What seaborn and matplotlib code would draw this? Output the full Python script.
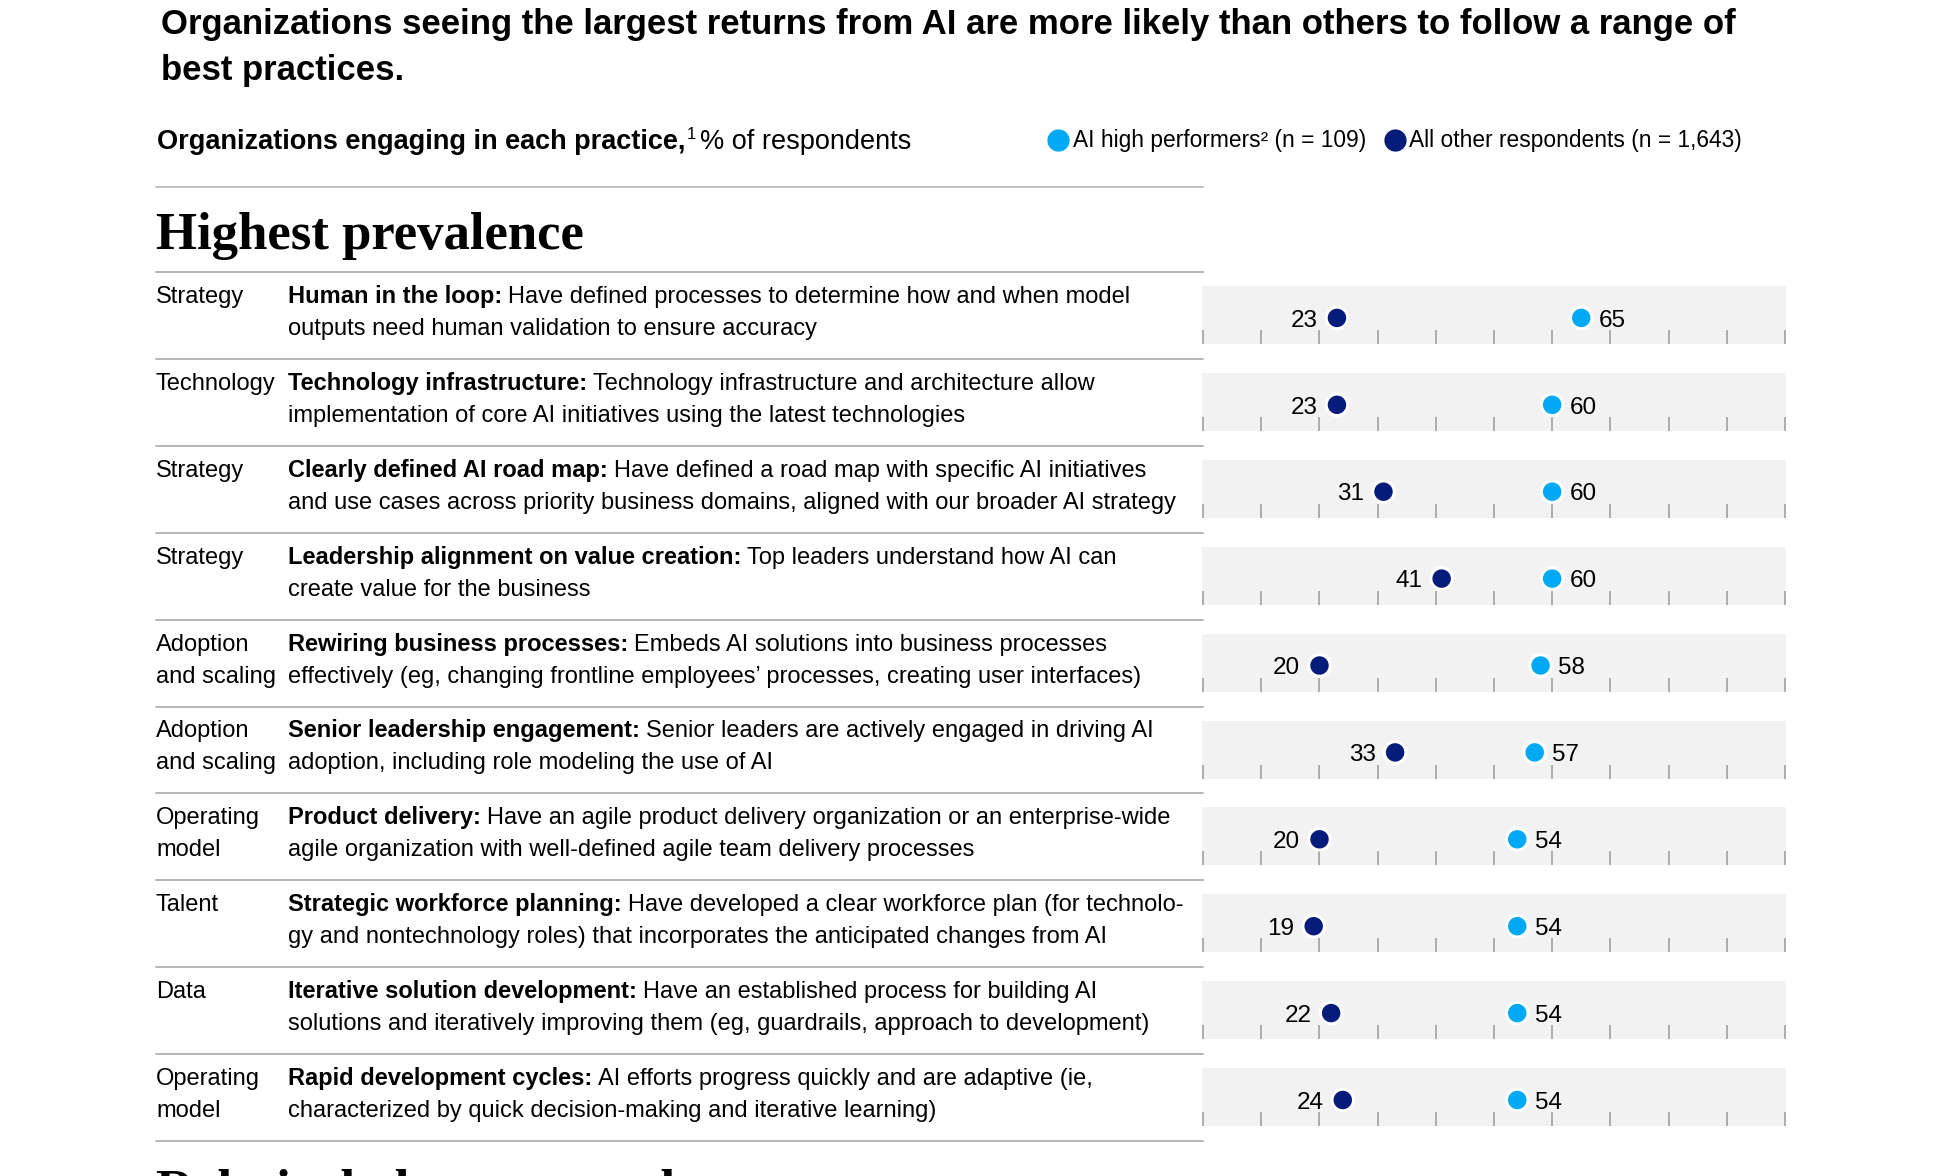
import numpy as np
import pandas as pd
import seaborn as sns
import matplotlib.pyplot as plt
from matplotlib.lines import Line2D

# ---------------- data ----------------
categories = ["Strategy", "Technology", "Strategy", "Strategy", "Adoption\nand scaling",
              "Adoption\nand scaling", "Operating\nmodel", "Talent", "Data", "Operating\nmodel"]
practice_titles = ["Human in the loop:", "Technology infrastructure:", "Clearly defined AI road map:",
                   "Leadership alignment on value creation:", "Rewiring business processes:",
                   "Senior leadership engagement:", "Product delivery:", "Strategic workforce planning:",
                   "Iterative solution development:", "Rapid development cycles:"]
practice_line1 = ["Have defined processes to determine how and when model",
                  "Technology infrastructure and architecture allow",
                  "Have defined a road map with specific AI initiatives",
                  "Top leaders understand how AI can",
                  "Embeds AI solutions into business processes",
                  "Senior leaders are actively engaged in driving AI",
                  "Have an agile product delivery organization or an enterprise-wide",
                  "Have developed a clear workforce plan (for technolo-",
                  "Have an established process for building AI",
                  "AI efforts progress quickly and are adaptive (ie,"]
practice_line2 = ["outputs need human validation to ensure accuracy",
                  "implementation of core AI initiatives using the latest technologies",
                  "and use cases across priority business domains, aligned with our broader AI strategy",
                  "create value for the business",
                  "effectively (eg, changing frontline employees\u2019 processes, creating user interfaces)",
                  "adoption, including role modeling the use of AI",
                  "agile organization with well-defined agile team delivery processes",
                  "gy and nontechnology roles) that incorporates the anticipated changes from AI",
                  "solutions and iteratively improving them (eg, guardrails, approach to development)",
                  "characterized by quick decision-making and iterative learning)"]
high_performers = [65, 60, 60, 60, 58, 57, 54, 54, 54, 54]
all_others = [23, 23, 31, 41, 20, 33, 20, 19, 22, 24]
group_labels = ["AI high performers\u00b2 (n = 109)", "All other respondents (n = 1,643)"]
x_ticks = list(range(0, 101, 10))

title_lines = ["Organizations seeing the largest returns from AI are more likely than others to follow a range of",
               "best practices."]
subtitle_bold = "Organizations engaging in each practice,"
subtitle_sup = "1"
subtitle_reg = "% of respondents"
section_title = "Highest prevalence"
next_section_title = "Relatively lower prevalence"

# ---------------- style ----------------
LIGHT = "#00A9F4"
NAVY = "#051C7A"
PANEL = "#F2F2F2"
RULE = "#B5B5B5"
TICK = "#9A9A9A"

sns.set_theme(style="white")
plt.rcParams['font.family'] = ['Liberation Sans', 'DejaVu Sans']
plt.rcParams['text.color'] = 'black'

W, H = 1938, 1176
fig = plt.figure(figsize=(W / 100, H / 100), dpi=100)
fig.patch.set_facecolor("white")
renderer = fig.canvas.get_renderer()

FS = 17.0  # body text size


def fx(px):
    return px / W


def fy(py):
    return 1 - py / H


def rich(x, y, parts, gap=6):
    """parts: list of (text, weight, size). draws consecutively on one baseline."""
    cur = x
    for txt, weight, size in parts:
        t = fig.text(fx(cur), fy(y), txt, fontsize=size, fontweight=weight,
                     ha="left", va="baseline", color="black")
        bb = t.get_window_extent(renderer=renderer)
        cur = bb.x1 + gap
    return cur


def hline(y, x0=156, x1=1203, lw=1.4, color=RULE):
    fig.add_artist(Line2D([fx(x0), fx(x1)], [fy(y), fy(y)], color=color, lw=lw,
                          transform=fig.transFigure))


# title
fig.text(fx(161), fy(34), title_lines[0], fontsize=25, fontweight="bold", va="baseline", color="black")
fig.text(fx(161), fy(80), title_lines[1], fontsize=25, fontweight="bold", va="baseline", color="black")

# subtitle
xb = rich(157, 149, [(subtitle_bold, "bold", 19.5)], gap=1)
xs = rich(xb, 139, [(subtitle_sup, "normal", 12)], gap=4)
rich(xs, 149, [(subtitle_reg, "normal", 19.5)])

# legend
handles = [Line2D([], [], marker="o", ls="", markerfacecolor=c, markeredgecolor=c, markersize=15)
           for c in (LIGHT, NAVY)]
fig.legend(handles, group_labels, loc="center left", bbox_to_anchor=(fx(1050), fy(141)),
           ncol=2, frameon=False, fontsize=16.4, handlelength=0.7, handletextpad=0.3,
           columnspacing=0.9, borderpad=0, borderaxespad=0, labelcolor="black")

# section header
hline(187, lw=1.2)
fig.text(fx(156), fy(249), section_title, fontsize=38, fontweight="bold",
         family=["Liberation Serif", "DejaVu Serif"], va="baseline", color="black")
fig.text(fx(156), fy(1206), next_section_title, fontsize=38, fontweight="bold",
         family=["Liberation Serif", "DejaVu Serif"], va="baseline", color="black")

# long data
df = pd.DataFrame({
    "row": list(range(len(categories))) * 2,
    "group": [group_labels[0]] * len(categories) + [group_labels[1]] * len(categories),
    "value": high_performers + all_others,
})
palette = {group_labels[0]: LIGHT, group_labels[1]: NAVY}

ROW0, ROWH = 272, 86.9
DOT_Y = 0.45
hline(ROW0)
for i in range(len(categories)):
    top = ROW0 + i * ROWH
    hline(top + ROWH)

    # category text
    for k, line in enumerate(categories[i].split("\n")):
        fig.text(fx(156), fy(top + 31 + 32 * k), line, fontsize=FS, va="baseline")
    # description
    rich(288, top + 31, [(practice_titles[i], "bold", FS), (practice_line1[i], "normal", FS)])
    fig.text(fx(288), fy(top + 63), practice_line2[i], fontsize=FS, va="baseline")

    # dot panel
    ax = fig.add_axes([fx(1202), fy(top + 72), fx(1786) - fx(1202), 58 / H])
    ax.set_facecolor(PANEL)
    sub = df[df["row"] == i]
    sns.scatterplot(data=sub, x="value", y=np.full(len(sub), DOT_Y), hue="group",
                    palette=palette, s=240, edgecolor="white", linewidth=2.2,
                    legend=False, ax=ax, zorder=3, clip_on=False)
    ax.set_xlim(-0.2, 100.2)
    ax.set_ylim(0, 1)
    ax.set_xticks(x_ticks)
    ax.set_yticks([])
    ax.tick_params(axis="x", direction="in", length=10, width=1.1, color=TICK,
                   labelbottom=False, bottom=True, pad=0)
    ax.set_xlabel("")
    ax.set_ylabel("")
    for s in ax.spines.values():
        s.set_visible(False)

    hv, ov = high_performers[i], all_others[i]
    ax.annotate(f"{ov}", (ov, DOT_Y), xytext=(-14, -6.3), textcoords="offset points",
                ha="right", va="baseline", fontsize=17.5, color="black")
    ax.annotate(f"{hv}", (hv, DOT_Y), xytext=(12.5, -6.3), textcoords="offset points",
                ha="left", va="baseline", fontsize=17.5, color="black")

fig.savefig("out.png", dpi=100, facecolor="white")
